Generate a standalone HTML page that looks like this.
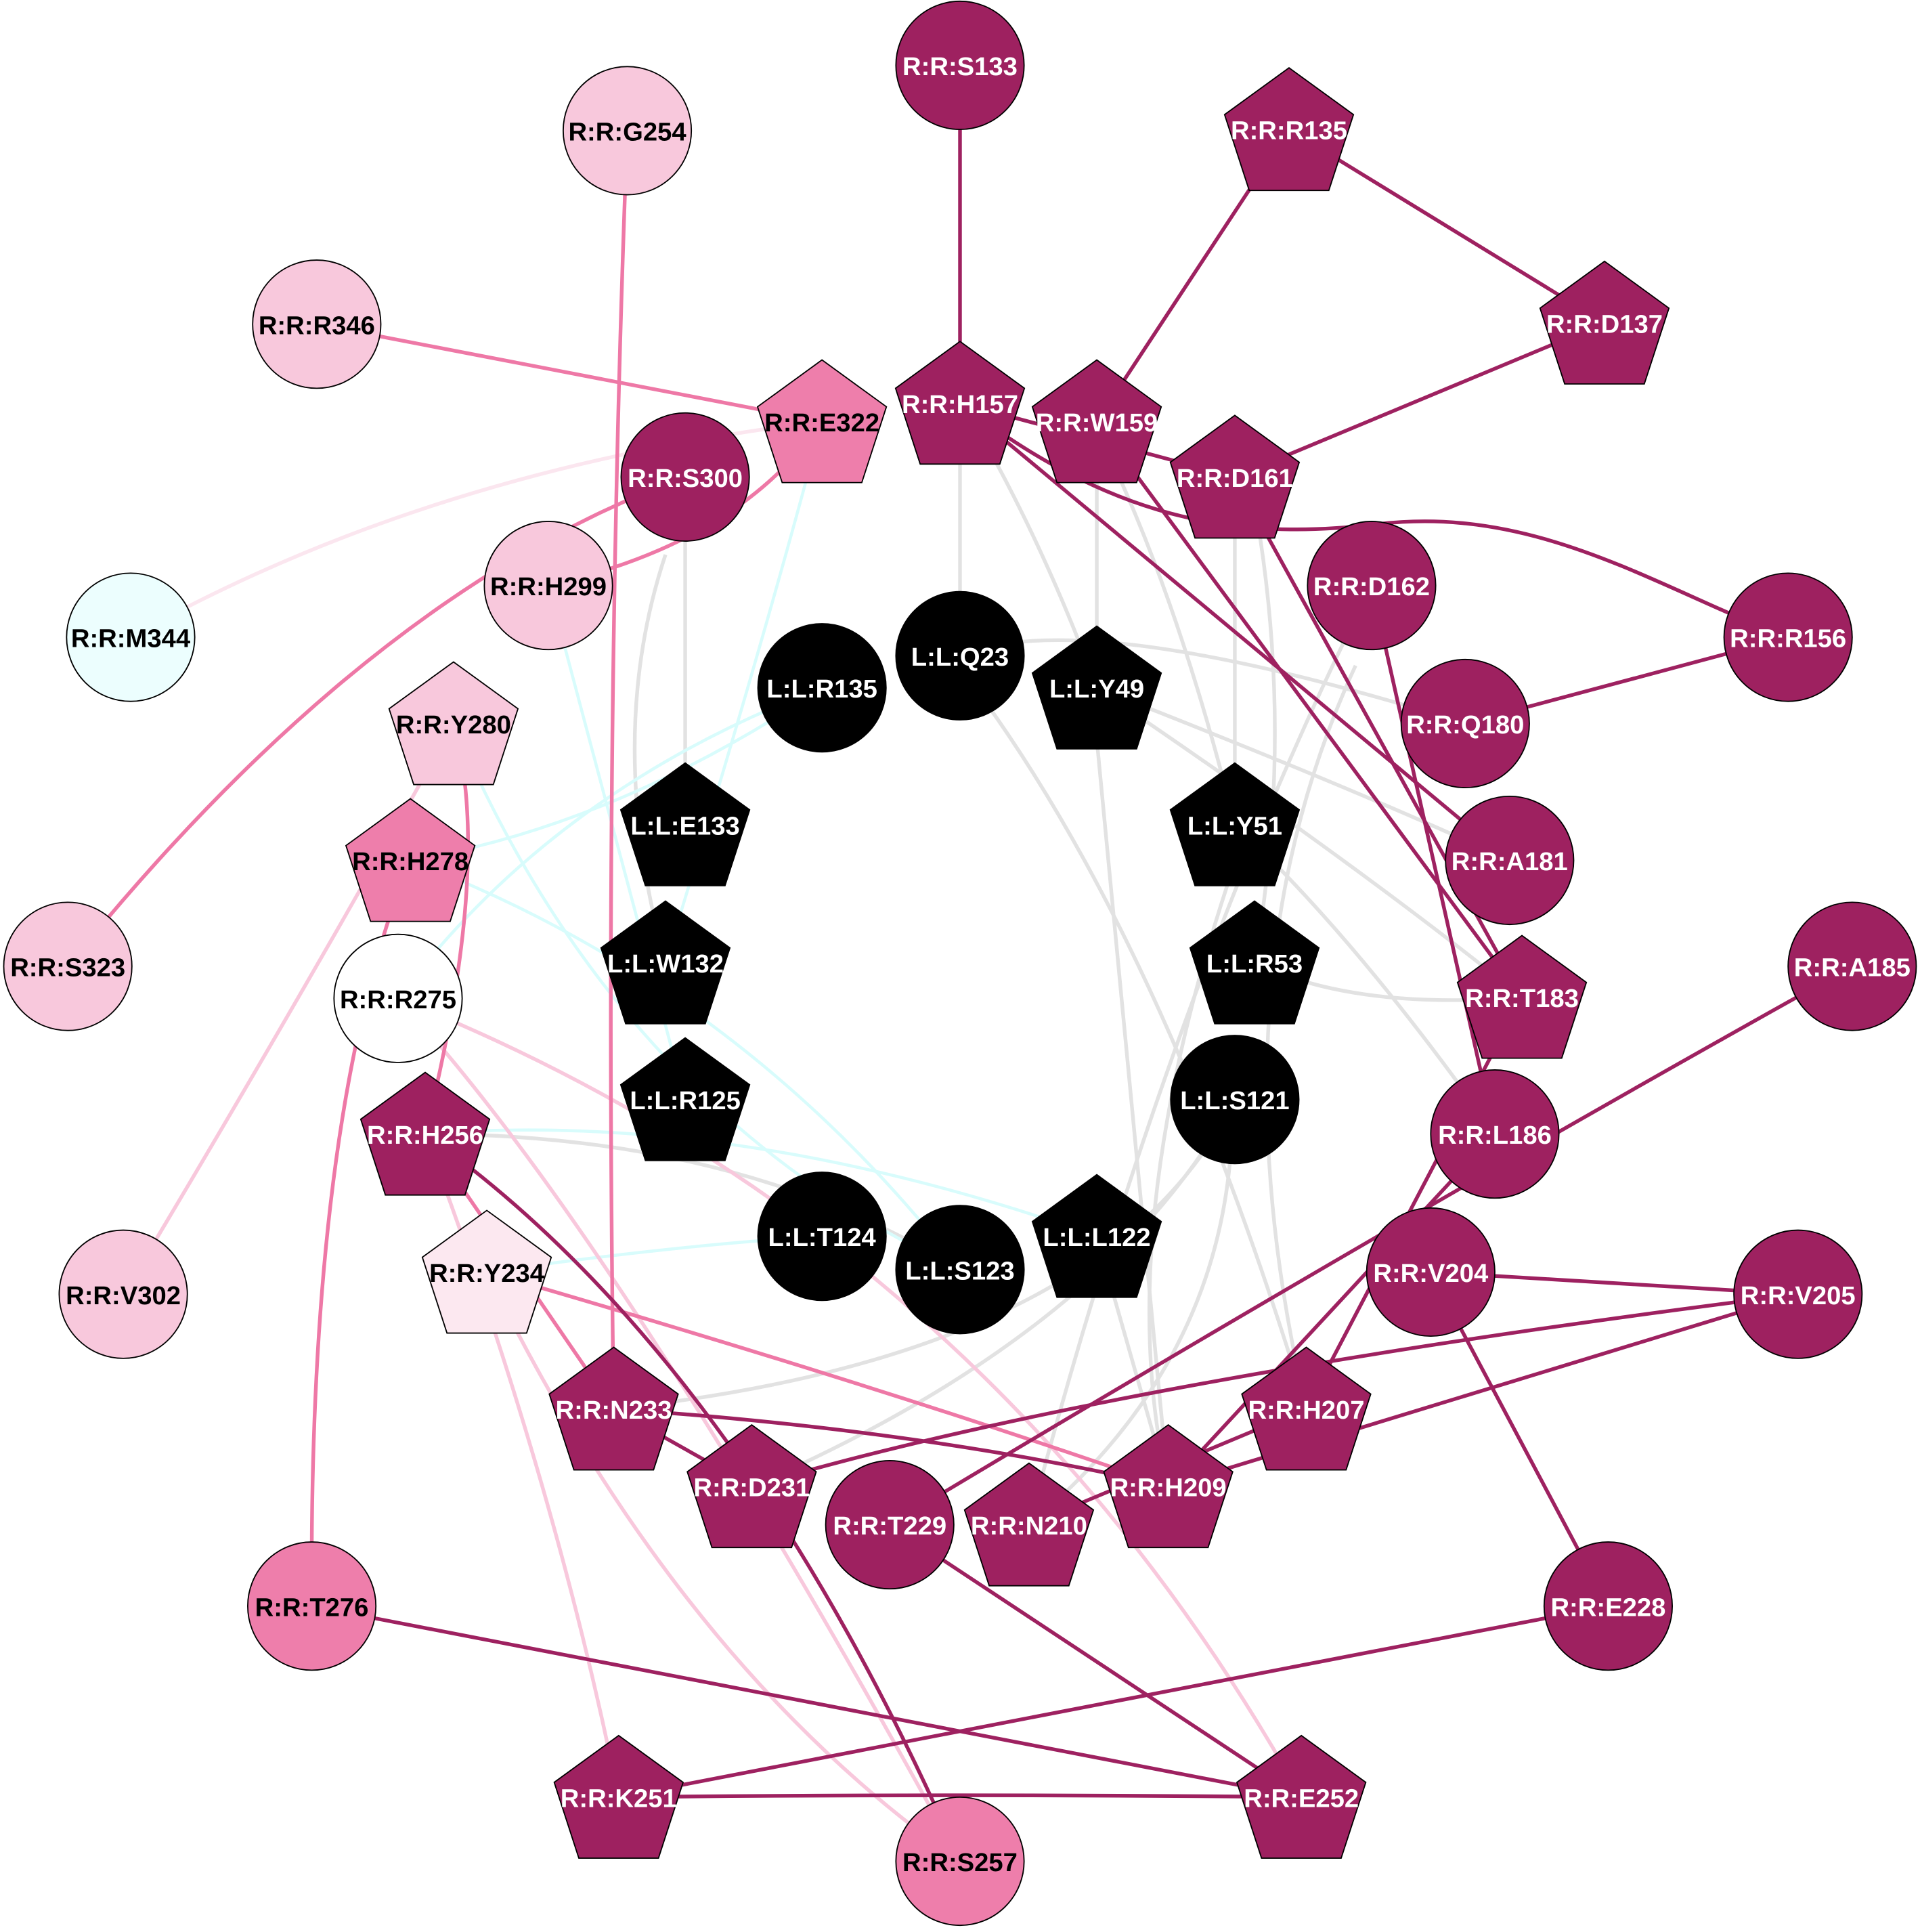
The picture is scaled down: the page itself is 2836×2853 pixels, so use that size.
<!DOCTYPE html>
<html><head><meta charset="utf-8"><style>html,body{margin:0;padding:0;background:#fff}svg{display:block}</style></head>
<body>
<svg xmlns="http://www.w3.org/2000/svg" width="2836" height="2853" viewBox="0 0 1558 1567.4">
<rect width="1558" height="1568" fill="#fff"/>
<g fill="none" stroke-width="3">
<g stroke="#e2e2e2">
<line x1="779" y1="327" x2="779" y2="532"/>
<line x1="890" y1="342" x2="890" y2="558"/>
<path d="M800 360 Q850 450 890 558"/>
<path d="M905 380 Q960 500 1002 669"/>
<path d="M1002 387 L1002 669"/>
<path d="M1020 420 Q1050 600 1018 781"/>
<path d="M556 387 L556 669"/>
<path d="M540 450 Q490 600 540 781"/>
<path d="M779 532 Q880 490 1189 587"/>
<path d="M890 558 Q1100 640 1225 698"/>
<path d="M890 558 Q1100 700 1235 809"/>
<path d="M1002 669 Q1100 760 1213 920"/>
<path d="M1018 781 Q1100 820 1235 809"/>
<path d="M800 570 Q950 780 1060 1143"/>
<path d="M890 600 Q920 900 948 1206"/>
<path d="M1002 700 Q900 1000 948 1206"/>
<path d="M1100 540 Q980 800 1060 1143"/>
<path d="M1113 475 Q950 800 835 1237"/>
<path d="M1000 900 Q1000 1100 835 1237"/>
<path d="M1002 892 Q900 1100 498 1143"/>
<path d="M1002 892 Q900 1080 610 1206"/>
<path d="M345 920 Q600 920 779 1030"/>
<path d="M890 1003 L948 1206"/>
</g>
<g stroke="#d8fcfc" stroke-width="2.5">
<path d="M667 342 Q620 520 540 781"/>
<line x1="445" y1="475" x2="556" y2="892"/>
<path d="M333 698 Q500 670 667 558"/>
<path d="M323 810 Q450 640 667 558"/>
<path d="M395 1032 Q550 1010 667 1003"/>
<path d="M345 920 Q600 900 890 1003"/>
<path d="M368 587 Q500 900 779 1030"/>
<path d="M333 698 Q600 800 779 1030"/>
</g>
<path d="M106 517 Q350 380 667 342" stroke="#fbe6ef"/>
<g stroke="#f8c8dc">
<path d="M368 587 Q250 800 100 1050"/>
<path d="M323 810 Q800 1000 1056 1458"/>
<path d="M345 920 Q450 1200 502 1458"/>
<path d="M395 1032 Q550 1350 779 1510"/>
<path d="M323 810 Q500 1000 779 1510"/>
</g>
<g stroke="#ee78a6">
<line x1="257" y1="263" x2="667" y2="342"/>
<path d="M667 342 Q600 440 445 475"/>
<path d="M509 106 Q490 600 498 1143"/>
<path d="M556 387 Q300 480 55 784"/>
<path d="M368 587 Q400 700 345 920"/>
<path d="M333 698 Q250 900 253 1303"/>
<line x1="345" y1="920" x2="498" y2="1143"/>
<path d="M395 1032 Q700 1120 948 1206"/>
</g>
<g stroke="#9e2160">
<line x1="779" y1="53" x2="779" y2="327"/>
<line x1="1046" y1="105" x2="890" y2="342"/>
<line x1="1046" y1="105" x2="1302" y2="262"/>
<line x1="1302" y1="262" x2="1002" y2="387"/>
<line x1="779" y1="327" x2="1002" y2="387"/>
<path d="M779 327 C900 420 1000 440 1120 425 C1250 410 1350 480 1451 517"/>
<line x1="779" y1="327" x2="1225" y2="698"/>
<line x1="890" y1="342" x2="1235" y2="809"/>
<line x1="1002" y1="387" x2="1235" y2="809"/>
<line x1="1113" y1="475" x2="1213" y2="920"/>
<line x1="1189" y1="587" x2="1451" y2="517"/>
<path d="M1503 784 Q1150 980 722 1237"/>
<line x1="1213" y1="920" x2="948" y2="1206"/>
<line x1="1235" y1="809" x2="1060" y2="1143"/>
<line x1="1161" y1="1032" x2="1459" y2="1050"/>
<line x1="1161" y1="1032" x2="1305" y2="1303"/>
<path d="M1459 1050 Q900 1120 610 1206"/>
<line x1="1459" y1="1050" x2="948" y2="1206"/>
<path d="M345 920 Q600 1100 779 1510"/>
<line x1="498" y1="1143" x2="610" y2="1206"/>
<path d="M498 1143 Q750 1160 948 1206"/>
<line x1="722" y1="1237" x2="1056" y2="1458"/>
<line x1="253" y1="1303" x2="1056" y2="1458"/>
<line x1="1305" y1="1303" x2="502" y2="1458"/>
<path d="M502 1458 Q780 1455 1056 1458"/>
<line x1="1060" y1="1143" x2="835" y2="1237"/>
</g>
</g>
<g stroke="#000" stroke-width="1">
<circle cx="779" cy="53" r="52" fill="#9e2160"/>
<polygon transform="translate(1046,105)" points="0,-50 52.3,-12 32.3,49.5 -32.3,49.5 -52.3,-12" fill="#9e2160"/>
<circle cx="509" cy="106" r="52" fill="#f8c8dc"/>
<polygon transform="translate(1302,262)" points="0,-50 52.3,-12 32.3,49.5 -32.3,49.5 -52.3,-12" fill="#9e2160"/>
<circle cx="257" cy="263" r="52" fill="#f8c8dc"/>
<polygon transform="translate(667,342)" points="0,-50 52.3,-12 32.3,49.5 -32.3,49.5 -52.3,-12" fill="#ee7eab"/>
<polygon transform="translate(779,327)" points="0,-50 52.3,-12 32.3,49.5 -32.3,49.5 -52.3,-12" fill="#9e2160"/>
<polygon transform="translate(890,342)" points="0,-50 52.3,-12 32.3,49.5 -32.3,49.5 -52.3,-12" fill="#9e2160"/>
<polygon transform="translate(1002,387)" points="0,-50 52.3,-12 32.3,49.5 -32.3,49.5 -52.3,-12" fill="#9e2160"/>
<circle cx="556" cy="387" r="52" fill="#9e2160"/>
<circle cx="445" cy="475" r="52" fill="#f8c8dc"/>
<circle cx="1113" cy="475" r="52" fill="#9e2160"/>
<circle cx="1451" cy="517" r="52" fill="#9e2160"/>
<circle cx="106" cy="517" r="52" fill="#ecfefe"/>
<circle cx="779" cy="532" r="52" fill="#000"/>
<polygon transform="translate(890,558)" points="0,-50 52.3,-12 32.3,49.5 -32.3,49.5 -52.3,-12" fill="#000"/>
<circle cx="667" cy="558" r="52" fill="#000"/>
<circle cx="1189" cy="587" r="52" fill="#9e2160"/>
<polygon transform="translate(368,587)" points="0,-50 52.3,-12 32.3,49.5 -32.3,49.5 -52.3,-12" fill="#f8c8dc"/>
<polygon transform="translate(556,669)" points="0,-50 52.3,-12 32.3,49.5 -32.3,49.5 -52.3,-12" fill="#000"/>
<polygon transform="translate(1002,669)" points="0,-50 52.3,-12 32.3,49.5 -32.3,49.5 -52.3,-12" fill="#000"/>
<polygon transform="translate(333,698)" points="0,-50 52.3,-12 32.3,49.5 -32.3,49.5 -52.3,-12" fill="#ee7eab"/>
<circle cx="1225" cy="698" r="52" fill="#9e2160"/>
<polygon transform="translate(540,781)" points="0,-50 52.3,-12 32.3,49.5 -32.3,49.5 -52.3,-12" fill="#000"/>
<polygon transform="translate(1018,781)" points="0,-50 52.3,-12 32.3,49.5 -32.3,49.5 -52.3,-12" fill="#000"/>
<circle cx="55" cy="784" r="52" fill="#f8c8dc"/>
<circle cx="1503" cy="784" r="52" fill="#9e2160"/>
<circle cx="323" cy="810" r="52" fill="#fff"/>
<polygon transform="translate(1235,809)" points="0,-50 52.3,-12 32.3,49.5 -32.3,49.5 -52.3,-12" fill="#9e2160"/>
<polygon transform="translate(556,892)" points="0,-50 52.3,-12 32.3,49.5 -32.3,49.5 -52.3,-12" fill="#000"/>
<circle cx="1002" cy="892" r="52" fill="#000"/>
<polygon transform="translate(345,920)" points="0,-50 52.3,-12 32.3,49.5 -32.3,49.5 -52.3,-12" fill="#9e2160"/>
<circle cx="1213" cy="920" r="52" fill="#9e2160"/>
<circle cx="667" cy="1003" r="52" fill="#000"/>
<circle cx="779" cy="1030" r="52" fill="#000"/>
<polygon transform="translate(890,1003)" points="0,-50 52.3,-12 32.3,49.5 -32.3,49.5 -52.3,-12" fill="#000"/>
<polygon transform="translate(395,1032)" points="0,-50 52.3,-12 32.3,49.5 -32.3,49.5 -52.3,-12" fill="#fce8f0"/>
<circle cx="1161" cy="1032" r="52" fill="#9e2160"/>
<circle cx="100" cy="1050" r="52" fill="#f8c8dc"/>
<circle cx="1459" cy="1050" r="52" fill="#9e2160"/>
<polygon transform="translate(498,1143)" points="0,-50 52.3,-12 32.3,49.5 -32.3,49.5 -52.3,-12" fill="#9e2160"/>
<polygon transform="translate(1060,1143)" points="0,-50 52.3,-12 32.3,49.5 -32.3,49.5 -52.3,-12" fill="#9e2160"/>
<polygon transform="translate(610,1206)" points="0,-50 52.3,-12 32.3,49.5 -32.3,49.5 -52.3,-12" fill="#9e2160"/>
<polygon transform="translate(948,1206)" points="0,-50 52.3,-12 32.3,49.5 -32.3,49.5 -52.3,-12" fill="#9e2160"/>
<circle cx="722" cy="1237" r="52" fill="#9e2160"/>
<polygon transform="translate(835,1237)" points="0,-50 52.3,-12 32.3,49.5 -32.3,49.5 -52.3,-12" fill="#9e2160"/>
<circle cx="253" cy="1303" r="52" fill="#ee7eab"/>
<circle cx="1305" cy="1303" r="52" fill="#9e2160"/>
<polygon transform="translate(502,1458)" points="0,-50 52.3,-12 32.3,49.5 -32.3,49.5 -52.3,-12" fill="#9e2160"/>
<polygon transform="translate(1056,1458)" points="0,-50 52.3,-12 32.3,49.5 -32.3,49.5 -52.3,-12" fill="#9e2160"/>
<circle cx="779" cy="1510" r="52" fill="#ee7eab"/>
</g>
<g font-family="Liberation Sans, Arial, sans-serif" font-weight="bold" font-size="21" text-anchor="middle" fill="#fff">
<text x="779" y="61">R:R:S133</text>
<text x="1046" y="113">R:R:R135</text>
<text x="1302" y="270">R:R:D137</text>
<text x="779" y="335">R:R:H157</text>
<text x="890" y="350">R:R:W159</text>
<text x="1002" y="395">R:R:D161</text>
<text x="556" y="395">R:R:S300</text>
<text x="1113" y="483">R:R:D162</text>
<text x="1451" y="525">R:R:R156</text>
<text x="779" y="540">L:L:Q23</text>
<text x="890" y="566">L:L:Y49</text>
<text x="667" y="566">L:L:R135</text>
<text x="1189" y="595">R:R:Q180</text>
<text x="556" y="677">L:L:E133</text>
<text x="1002" y="677">L:L:Y51</text>
<text x="1225" y="706">R:R:A181</text>
<text x="540" y="789">L:L:W132</text>
<text x="1018" y="789">L:L:R53</text>
<text x="1503" y="792">R:R:A185</text>
<text x="1235" y="817">R:R:T183</text>
<text x="556" y="900">L:L:R125</text>
<text x="1002" y="900">L:L:S121</text>
<text x="345" y="928">R:R:H256</text>
<text x="1213" y="928">R:R:L186</text>
<text x="667" y="1011">L:L:T124</text>
<text x="779" y="1038">L:L:S123</text>
<text x="890" y="1011">L:L:L122</text>
<text x="1161" y="1040">R:R:V204</text>
<text x="1459" y="1058">R:R:V205</text>
<text x="498" y="1151">R:R:N233</text>
<text x="1060" y="1151">R:R:H207</text>
<text x="610" y="1214">R:R:D231</text>
<text x="948" y="1214">R:R:H209</text>
<text x="722" y="1245">R:R:T229</text>
<text x="835" y="1245">R:R:N210</text>
<text x="1305" y="1311">R:R:E228</text>
<text x="502" y="1466">R:R:K251</text>
<text x="1056" y="1466">R:R:E252</text>
</g>
<g font-family="Liberation Sans, Arial, sans-serif" font-weight="bold" font-size="21" text-anchor="middle" fill="#000">
<text x="509" y="114">R:R:G254</text>
<text x="257" y="271">R:R:R346</text>
<text x="667" y="350">R:R:E322</text>
<text x="445" y="483">R:R:H299</text>
<text x="106" y="525">R:R:M344</text>
<text x="368" y="595">R:R:Y280</text>
<text x="333" y="706">R:R:H278</text>
<text x="55" y="792">R:R:S323</text>
<text x="323" y="818">R:R:R275</text>
<text x="395" y="1040">R:R:Y234</text>
<text x="100" y="1058">R:R:V302</text>
<text x="253" y="1311">R:R:T276</text>
<text x="779" y="1518">R:R:S257</text>
</g>
</svg>
</body></html>
